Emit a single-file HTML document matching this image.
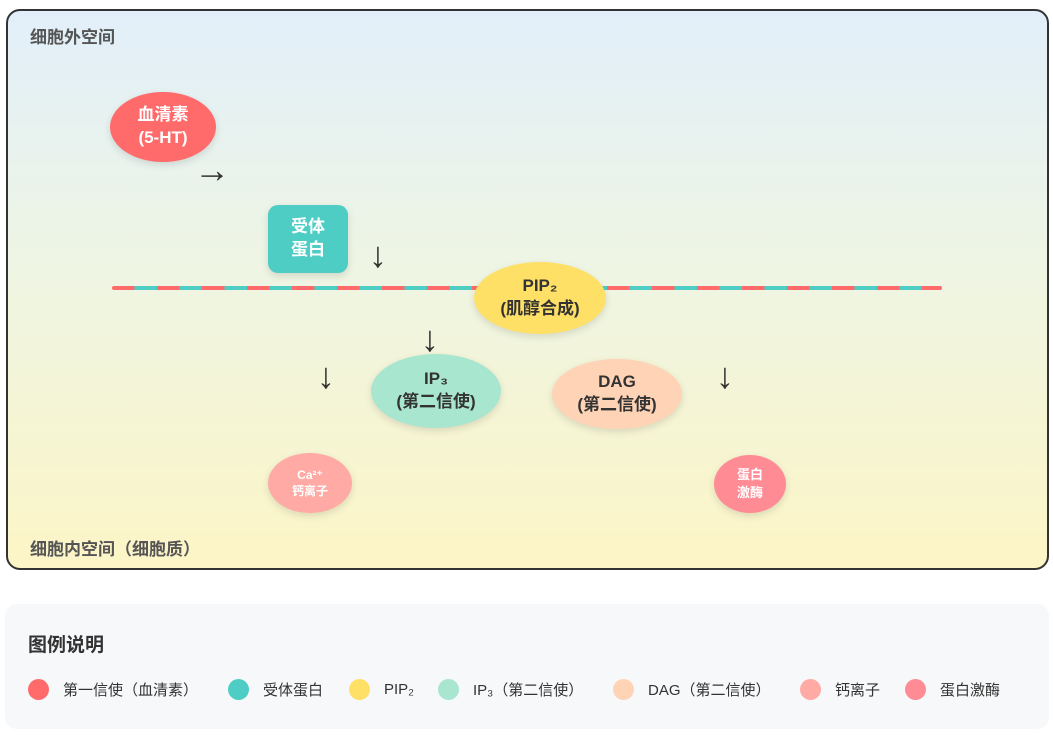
<!DOCTYPE html>
<html><head><meta charset="utf-8"><style>
*{margin:0;padding:0;box-sizing:border-box}
body{width:1053px;height:740px;background:#fff;font-family:"Liberation Sans","Noto Sans CJK SC",sans-serif;position:relative;overflow:hidden}
.box{position:absolute;left:6px;top:9px;width:1043px;height:561px;border:2px solid #333;border-radius:14px;background:linear-gradient(180deg,#e2effa 0%,#eef5e4 45%,#fcf5c6 100%);overflow:hidden}
.a{position:absolute;display:flex;align-items:center;justify-content:center;text-align:center;font-weight:bold;line-height:1.35;box-shadow:0 3px 8px rgba(0,0,0,0.12)}
.t{position:absolute;font-weight:bold;color:#555;font-size:17px}
.arr{position:absolute;font-size:36px;color:#333;line-height:1}
.mem{position:absolute;left:112px;top:286px;width:830px;height:4px;border-radius:2px;background:repeating-linear-gradient(90deg,#ff6b6b 0 22.5px,#4ecdc4 22.5px 45px)}
.leg{position:absolute;left:5px;top:604px;width:1044px;height:125px;background:#f7f8fa;border-radius:12px}
.li{position:absolute;top:679px;font-size:15px;color:#333;display:flex;align-items:center}
.dot{width:21px;height:21px;border-radius:50%;margin-right:14px}
</style></head><body>
<div class="box"></div>
<div class="t" style="left:30px;top:23px">细胞外空间</div>
<div class="t" style="left:30px;top:535px">细胞内空间（细胞质）</div>
<div class="mem"></div>
<div class="a" style="left:110px;top:92px;width:106px;height:70px;border-radius:50%;background:#ff6b6b;color:#fff;font-size:17px">血清素<br>(5-HT)</div>
<div class="arr" style="left:194px;top:152px">→</div>
<div class="a" style="left:268px;top:205px;width:80px;height:68px;border-radius:10px;background:#4ecdc4;color:#fff;font-size:17px">受体<br>蛋白</div>
<div class="arr" style="left:369px;top:237px">↓</div>
<div class="a" style="left:474px;top:262px;width:132px;height:72px;border-radius:50%;background:#ffe066;color:#333;font-size:17px">PIP₂<br>(肌醇合成)</div>
<div class="arr" style="left:421px;top:321px">↓</div>
<div class="arr" style="left:317px;top:358px">↓</div>
<div class="a" style="left:371px;top:354px;width:130px;height:74px;border-radius:50%;background:#a8e6cf;color:#333;font-size:17px">IP₃<br>(第二信使)</div>
<div class="a" style="left:552px;top:359px;width:130px;height:70px;border-radius:50%;background:#ffd3b6;color:#333;font-size:17px">DAG<br>(第二信使)</div>
<div class="arr" style="left:716px;top:358px">↓</div>
<div class="a" style="left:268px;top:453px;width:84px;height:60px;border-radius:50%;background:#ffaaa5;color:#fff;font-size:12px">Ca²⁺<br>钙离子</div>
<div class="a" style="left:714px;top:455px;width:72px;height:58px;border-radius:50%;background:#ff8b94;color:#fff;font-size:13px">蛋白<br>激酶</div>
<div class="leg"></div>
<div style="position:absolute;left:28px;top:630px;font-size:19px;font-weight:bold;color:#333">图例说明</div>
<div class="li" style="left:28px"><span class="dot" style="background:#ff6b6b"></span>第一信使（血清素）</div>
<div class="li" style="left:228px"><span class="dot" style="background:#4ecdc4"></span>受体蛋白</div>
<div class="li" style="left:349px"><span class="dot" style="background:#ffe066"></span>PIP₂</div>
<div class="li" style="left:438px"><span class="dot" style="background:#a8e6cf"></span>IP₃（第二信使）</div>
<div class="li" style="left:613px"><span class="dot" style="background:#ffd3b6"></span>DAG（第二信使）</div>
<div class="li" style="left:800px"><span class="dot" style="background:#ffaaa5"></span>钙离子</div>
<div class="li" style="left:905px"><span class="dot" style="background:#ff8b94"></span>蛋白激酶</div>
</body></html>
